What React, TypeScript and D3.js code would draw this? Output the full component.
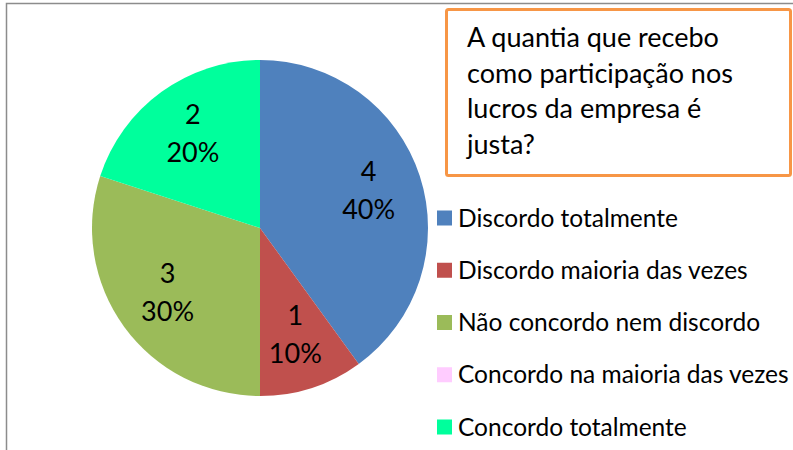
import { useMemo } from "react";
import * as d3 from "d3";

const WIDTH = 793;
const HEIGHT = 450;

const categories = [
  "Discordo totalmente",
  "Discordo maioria das vezes",
  "Não concordo nem discordo",
  "Concordo na maioria das vezes",
  "Concordo totalmente",
];
const counts = [4, 1, 3, 0, 2];
const colors = ["#4F81BD", "#C0504D", "#9BBB59", "#FFCCFF", "#00FF9C"];
const titleLines = [
  "A quantia que recebo",
  "como participação nos",
  "lucros da empresa é",
  "justa?",
];

const FONT = "Lato, 'Open Sans', sans-serif";

type Slice = { name: string; value: number; color: string };

export const PieChart = () => {
  const data: Slice[] = categories.map((name, i) => ({
    name,
    value: counts[i],
    color: colors[i],
  }));
  const total = d3.sum(counts);

  const cx = 260;
  const cy = 228;
  const radius = 168;

  const arcs = useMemo(() => {
    return d3
      .pie<Slice>()
      .sort(null)
      .value((d) => d.value)(data);
  }, []);

  const arcGen = d3.arc<d3.PieArcDatum<Slice>>().innerRadius(0).outerRadius(radius);
  const labelArc = d3
    .arc<d3.PieArcDatum<Slice>>()
    .innerRadius(radius * 0.68)
    .outerRadius(radius * 0.68);

  const legendY = d3
    .scalePoint<string>()
    .domain(categories)
    .range([218, 427]);

  const pct = d3.format(".0%");

  return (
    <svg
      width={WIDTH}
      height={HEIGHT}
      style={{ position: "absolute", top: 0, left: 0, background: "#fff" }}
      fontFamily={FONT}
    >
      {/* chart area border, runs off the right/bottom edge */}
      <rect x={6.5} y={3.5} width={900} height={600} fill="none" stroke="#8c8c8c" strokeWidth={1.5} />

      <g transform={`translate(${cx},${cy})`}>
        {arcs.map((a, i) =>
          a.value > 0 ? (
            <path key={i} d={arcGen(a) || ""} fill={a.data.color} stroke="none" />
          ) : null
        )}
        {arcs.map((a, i) => {
          if (a.value === 0) return null;
          const [lx, ly] = labelArc.centroid(a);
          return (
            <text key={i} x={lx} y={ly} textAnchor="middle" fontSize={27} fill="#000">
              <tspan x={lx} dy={-12}>{a.value}</tspan>
              <tspan x={lx} dy={38}>{pct(a.value / total)}</tspan>
            </text>
          );
        })}
      </g>

      {/* title box */}
      <rect x={446.5} y={9.5} width={344} height={166} fill="#fff" stroke="#F79646" strokeWidth={3} rx={2} />
      <text fontSize={27} fill="#000">
        {titleLines.map((line, i) => (
          <tspan key={i} x={467} y={47 + i * 35.5}>
            {line}
          </tspan>
        ))}
      </text>

      {/* legend */}
      <g>
        {data.map((d, i) => {
          const y = legendY(d.name) ?? 0;
          return (
            <g key={i}>
              <rect x={437} y={y - 7.5} width={15} height={15} fill={d.color} />
              <text x={458} y={y} dy="0.35em" fontSize={24.5} fill="#000">
                {d.name}
              </text>
            </g>
          );
        })}
      </g>
    </svg>
  );
};

export default function App() {
  return <PieChart />;
}
